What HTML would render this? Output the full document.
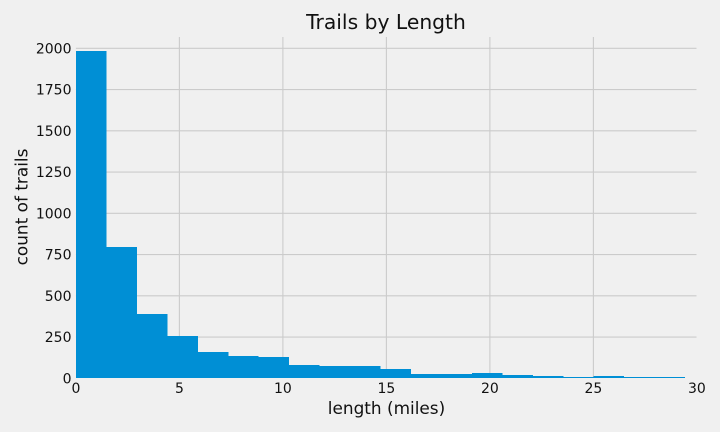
<!DOCTYPE html>
<html>
<head>
<meta charset="utf-8">
<style>
html,body{margin:0;padding:0;background:#f0f0f0;width:720px;height:432px;overflow:hidden}
svg{display:block}
text{font-family:"DejaVu Sans","Liberation Sans",sans-serif;fill:#111}
</style>
</head>
<body>
<svg id="chart" width="720" height="432" viewBox="0 0 720 432" xmlns="http://www.w3.org/2000/svg">
<rect x="0" y="0" width="720" height="432" fill="#f0f0f0"/>
<g id="grid"></g>
<g id="bars"></g>
<g id="xticks"></g>
<g id="yticks"></g>
<text x="386" y="29" font-size="20.3" text-anchor="middle">Trails by Length</text>
<text x="386.5" y="414" font-size="16.9" text-anchor="middle">length (miles)</text>
<text x="0" y="0" font-size="16.9" text-anchor="middle" transform="translate(27.5,207) rotate(-90)">count of trails</text>
</svg>
<script>
const binCounts = [1984, 796, 390, 256, 159, 135, 129, 81, 75, 75, 56, 26, 26, 32, 20, 14, 8, 14, 8, 8];
const binStart = 0.005;
const binWidth = 1.4712;
const xTickValues = [0, 5, 10, 15, 20, 25, 30];
const yTickValues = [0, 250, 500, 750, 1000, 1250, 1500, 1750, 2000];

const NS = 'http://www.w3.org/2000/svg';
const plotLeft = 75.9, plotRight = 696.5, barBase = 378, gridTop = 37;
function xScale(v) { return plotLeft + v * 20.7; }
function yScale(v) { return 378.3 - v * 0.165; }
function make(tag, attrs) {
  const el = document.createElementNS(NS, tag);
  for (const k in attrs) el.setAttribute(k, attrs[k]);
  return el;
}
const gridG = document.getElementById('grid');
const barsG = document.getElementById('bars');
const xG = document.getElementById('xticks');
const yG = document.getElementById('yticks');

xTickValues.forEach(function (v) {
  const x = xScale(v);
  if (v > 0 && v < 30) {
    const line = make('line', { x1: x, x2: x, y1: gridTop, y2: barBase, stroke: '#cbcbcb', 'stroke-width': 1.1 });
    
    
    gridG.appendChild(line);
  }
  const t = make('text', { x: x, y: 393, 'font-size': 14, 'text-anchor': 'middle' });
  t.textContent = v;
  
  
  xG.appendChild(t);
});

yTickValues.forEach(function (v) {
  const y = yScale(v);
  if (v > 0) {
    const line = make('line', { x1: plotLeft, x2: plotRight, y1: y, y2: y, stroke: '#cbcbcb', 'stroke-width': 1.1 });
    
    
    gridG.appendChild(line);
  }
  const t = make('text', { x: 71.5, y: y + 5, 'font-size': 14, 'text-anchor': 'end' });
  t.textContent = v;
  
  
  yG.appendChild(t);
});

binCounts.forEach(function (c, i) {
  const x0 = xScale(binStart + i * binWidth);
  const x1 = xScale(binStart + (i + 1) * binWidth);
  const y = yScale(c);
  const r = make('rect', { x: x0, y: y, width: x1 - x0, height: barBase - y, fill: '#008fd5', 'shape-rendering': 'crispEdges' });
  
  
  barsG.appendChild(r);
});
</script>
</body>
</html>
